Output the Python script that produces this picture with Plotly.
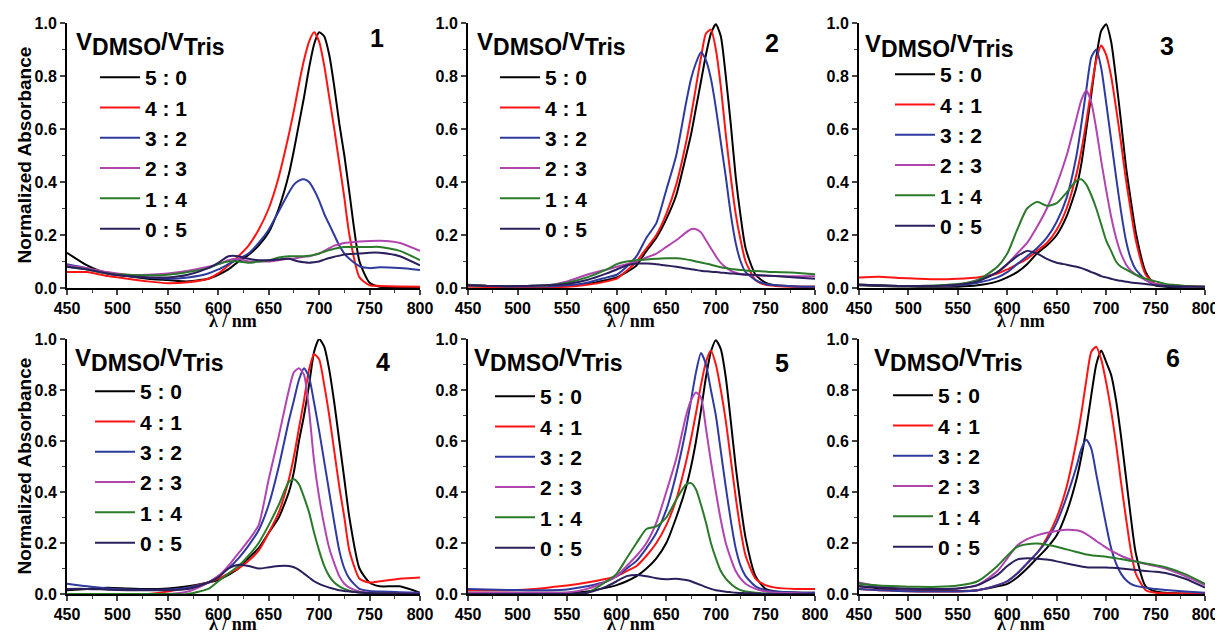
import plotly.graph_objects as go

# ---------------- data ----------------
WL = [450, 470, 490, 510, 530, 550, 570, 590, 600, 610, 620, 630, 640, 650, 660, 670, 675,
      680, 685, 690, 695, 700, 705, 710, 715, 720, 725, 730, 740, 750, 760, 780, 800]

RATIOS = ["5 : 0", "4 : 1", "3 : 2", "2 : 3", "1 : 4", "0 : 5"]
COLORS = ["#000000", "#ff1414", "#2f3a9e", "#b045b0", "#2a7a2a", "#2b1f5c"]
PANELS = ["1", "2", "3", "4", "5", "6"]

# panel 1
p1_50 = [0.133, 0.085, 0.055, 0.045, 0.035, 0.03, 0.025, 0.035, 0.05, 0.07, 0.1, 0.125, 0.16, 0.21, 0.3, 0.43, 0.52,
         0.62, 0.72, 0.83, 0.92, 0.965, 0.95, 0.88, 0.76, 0.62, 0.5, 0.36, 0.1, 0.02, 0.005, 0.003, 0.002]
p1_41 = [0.06, 0.06, 0.045, 0.035, 0.025, 0.018, 0.022, 0.035, 0.055, 0.085, 0.12, 0.16, 0.22, 0.3, 0.42, 0.58, 0.67,
         0.77, 0.86, 0.93, 0.965, 0.93, 0.84, 0.72, 0.6, 0.47, 0.34, 0.2, 0.04, 0.01, 0.008, 0.006, 0.005]
p1_32 = [0.09, 0.075, 0.055, 0.045, 0.04, 0.035, 0.04, 0.055, 0.07, 0.09, 0.11, 0.13, 0.17, 0.22, 0.29, 0.36, 0.39,
         0.405, 0.41, 0.4, 0.37, 0.33, 0.28, 0.24, 0.2, 0.16, 0.13, 0.11, 0.082, 0.075, 0.078, 0.075, 0.068]
p1_23 = [0.085, 0.075, 0.06, 0.05, 0.05, 0.055, 0.065, 0.08, 0.09, 0.105, 0.11, 0.1, 0.1, 0.1, 0.105, 0.11, 0.11,
         0.115, 0.118, 0.12, 0.125, 0.13, 0.14, 0.15, 0.16, 0.165, 0.17, 0.172, 0.175, 0.177, 0.178, 0.17, 0.14]
p1_14 = [0.08, 0.07, 0.055, 0.05, 0.048, 0.05, 0.06, 0.075, 0.09, 0.1, 0.1, 0.095, 0.1, 0.105, 0.115, 0.12, 0.12,
         0.12, 0.12, 0.122, 0.125, 0.13, 0.137, 0.143, 0.148, 0.152, 0.155, 0.155, 0.155, 0.155, 0.155, 0.14, 0.105]
p1_05 = [0.08, 0.07, 0.055, 0.045, 0.04, 0.04, 0.05, 0.075, 0.095, 0.12, 0.12, 0.11, 0.105, 0.105, 0.108, 0.11, 0.105,
         0.1, 0.097, 0.095, 0.097, 0.1, 0.107, 0.113, 0.118, 0.122, 0.126, 0.128, 0.13, 0.133, 0.133, 0.12, 0.085]

# panel 2
p2_50 = [0.012, 0.008, 0.006, 0.005, 0.005, 0.008, 0.015, 0.03, 0.04, 0.06, 0.085, 0.14, 0.19, 0.26, 0.35, 0.5, 0.58,
         0.68, 0.78, 0.88, 0.96, 0.995, 0.95, 0.8, 0.62, 0.42, 0.27, 0.15, 0.05, 0.02, 0.01, 0.006, 0.005]
p2_41 = [0.005, 0.004, 0.004, 0.004, 0.004, 0.005, 0.012, 0.025, 0.035, 0.065, 0.1, 0.15, 0.2, 0.28, 0.39, 0.55, 0.65,
         0.76, 0.87, 0.96, 0.975, 0.9, 0.76, 0.58, 0.42, 0.28, 0.18, 0.1, 0.03, 0.012, 0.008, 0.005, 0.005]
p2_32 = [0.01, 0.008, 0.006, 0.006, 0.006, 0.01, 0.02, 0.04, 0.05, 0.08, 0.12, 0.19, 0.245, 0.37, 0.5, 0.7, 0.79,
         0.85, 0.89, 0.86, 0.79, 0.68, 0.55, 0.42, 0.28, 0.17, 0.1, 0.06, 0.03, 0.015, 0.01, 0.006, 0.005]
p2_23 = [0.01, 0.008, 0.007, 0.008, 0.01, 0.025, 0.05, 0.07, 0.08, 0.09, 0.1, 0.115, 0.13, 0.155, 0.18, 0.21, 0.222,
         0.222, 0.21, 0.18, 0.15, 0.12, 0.095, 0.078, 0.065, 0.058, 0.053, 0.05, 0.048, 0.046, 0.045, 0.044, 0.044]
p2_14 = [0.01, 0.008, 0.007, 0.008, 0.01, 0.02, 0.04, 0.07, 0.09, 0.1, 0.105, 0.108, 0.11, 0.112, 0.112, 0.108, 0.105,
         0.1, 0.096, 0.092, 0.088, 0.083, 0.078, 0.075, 0.072, 0.07, 0.068, 0.066, 0.064, 0.062, 0.06, 0.058, 0.052]
p2_05 = [0.01, 0.008, 0.007, 0.008, 0.01, 0.015, 0.03, 0.055, 0.07, 0.085, 0.092, 0.092, 0.09, 0.085, 0.08, 0.074, 0.071,
         0.068, 0.065, 0.063, 0.061, 0.06, 0.058, 0.057, 0.055, 0.054, 0.052, 0.051, 0.049, 0.047, 0.045, 0.04, 0.035]

# panel 3
p3_50 = [0.01, 0.008, 0.006, 0.005, 0.005, 0.005, 0.01, 0.025, 0.04, 0.06, 0.09, 0.13, 0.16, 0.2, 0.27, 0.38, 0.47,
         0.6, 0.73, 0.87, 0.97, 0.995, 0.93, 0.79, 0.63, 0.46, 0.33, 0.21, 0.06, 0.01, 0.005, 0.003, 0.003]
p3_41 = [0.04, 0.042, 0.038, 0.035, 0.033, 0.035, 0.04, 0.055, 0.07, 0.09, 0.11, 0.14, 0.17, 0.22, 0.3, 0.43, 0.52,
         0.63, 0.75, 0.86, 0.915, 0.88, 0.8, 0.68, 0.55, 0.41, 0.29, 0.18, 0.05, 0.015, 0.01, 0.007, 0.005]
p3_32 = [0.012, 0.01, 0.008, 0.008, 0.008, 0.01, 0.02, 0.04, 0.06, 0.09, 0.12, 0.15, 0.19, 0.25, 0.34, 0.5, 0.62,
         0.75, 0.87, 0.9, 0.83, 0.7, 0.56, 0.42, 0.29, 0.18, 0.11, 0.07, 0.03, 0.012, 0.008, 0.005, 0.004]
p3_23 = [0.012, 0.01, 0.008, 0.008, 0.008, 0.012, 0.03, 0.06, 0.09, 0.13, 0.17, 0.23, 0.3, 0.39, 0.5, 0.64, 0.71,
         0.745, 0.7, 0.6, 0.48, 0.37, 0.27, 0.19, 0.13, 0.09, 0.065, 0.05, 0.03, 0.015, 0.01, 0.006, 0.004]
p3_14 = [0.012, 0.01, 0.008, 0.008, 0.01, 0.015, 0.03, 0.08, 0.13, 0.22, 0.3, 0.325, 0.31, 0.32, 0.36, 0.405, 0.41,
         0.39, 0.35, 0.3, 0.24, 0.18, 0.14, 0.1, 0.08, 0.07, 0.06, 0.05, 0.035, 0.025, 0.015, 0.008, 0.005]
p3_05 = [0.012, 0.01, 0.008, 0.008, 0.008, 0.012, 0.025, 0.06, 0.09, 0.12, 0.14, 0.13, 0.11, 0.095, 0.088, 0.08, 0.075,
         0.068, 0.06, 0.053, 0.045, 0.04, 0.035, 0.03, 0.027, 0.024, 0.021, 0.019, 0.015, 0.01, 0.008, 0.006, 0.005]

# panel 4
p4_50 = [0.015, 0.02, 0.025, 0.022, 0.02, 0.022, 0.03, 0.045, 0.055, 0.075, 0.1, 0.14, 0.18, 0.24, 0.3, 0.4, 0.48,
         0.6, 0.7, 0.82, 0.95, 1.0, 0.97, 0.88, 0.75, 0.6, 0.45, 0.3, 0.1, 0.045, 0.03, 0.03, 0.005]
p4_41 = [0.0, 0.0, 0.0, 0.0, 0.0, 0.01, 0.025, 0.045, 0.06, 0.08, 0.1, 0.13, 0.17, 0.24, 0.32, 0.45, 0.54,
         0.65, 0.76, 0.88, 0.94, 0.92, 0.82, 0.7, 0.56, 0.42, 0.3, 0.17, 0.06, 0.045, 0.05, 0.06, 0.065]
p4_32 = [0.04, 0.03, 0.022, 0.018, 0.017, 0.018, 0.025, 0.045, 0.07, 0.1, 0.14, 0.19, 0.25, 0.35, 0.5, 0.68, 0.76,
         0.84, 0.885, 0.85, 0.75, 0.64, 0.52, 0.4, 0.28, 0.17, 0.1, 0.06, 0.02, 0.012, 0.01, 0.007, 0.005]
p4_23 = [0.0, 0.0, 0.0, 0.0, 0.0, 0.0, 0.01, 0.045, 0.07, 0.11, 0.16, 0.21, 0.27, 0.45, 0.62, 0.8, 0.87,
         0.885, 0.86, 0.72, 0.52, 0.38, 0.27, 0.18, 0.12, 0.07, 0.04, 0.025, 0.01, 0.005, 0.003, 0.002, 0.0]
p4_14 = [0.0, 0.0, 0.0, 0.0, 0.0, 0.0, 0.0, 0.02, 0.05, 0.08, 0.11, 0.15, 0.2, 0.27, 0.35, 0.44, 0.45,
         0.43, 0.38, 0.32, 0.24, 0.17, 0.11, 0.07, 0.045, 0.03, 0.02, 0.013, 0.006, 0.003, 0.002, 0.0, 0.0]
p4_05 = [0.02, 0.02, 0.017, 0.015, 0.015, 0.015, 0.02, 0.045, 0.065, 0.1, 0.115, 0.11, 0.1, 0.105, 0.11, 0.11, 0.105,
         0.095, 0.08, 0.065, 0.05, 0.04, 0.032, 0.025, 0.02, 0.015, 0.012, 0.01, 0.006, 0.004, 0.003, 0.002, 0.0]

# panel 5
p5_50 = [0.005, 0.005, 0.005, 0.005, 0.005, 0.005, 0.01, 0.025, 0.035, 0.05, 0.07, 0.1, 0.14, 0.2, 0.3, 0.42, 0.5,
         0.6, 0.72, 0.85, 0.95, 0.995, 0.96, 0.85, 0.68, 0.5, 0.35, 0.22, 0.07, 0.02, 0.01, 0.006, 0.005]
p5_41 = [0.015, 0.015, 0.015, 0.018, 0.025, 0.033, 0.045, 0.06, 0.07, 0.09, 0.11, 0.15, 0.2, 0.27, 0.37, 0.52, 0.61,
         0.71, 0.82, 0.91, 0.955, 0.9, 0.8, 0.68, 0.53, 0.38, 0.25, 0.15, 0.06, 0.035, 0.025, 0.02, 0.02]
p5_32 = [0.02, 0.018, 0.016, 0.015, 0.015, 0.018, 0.03, 0.05, 0.07, 0.1, 0.13, 0.18, 0.24, 0.33, 0.47, 0.65, 0.76,
         0.87, 0.945, 0.9, 0.8, 0.7, 0.56, 0.42, 0.29, 0.18, 0.11, 0.07, 0.03, 0.015, 0.01, 0.006, 0.005]
p5_23 = [0.005, 0.005, 0.005, 0.005, 0.005, 0.005, 0.02, 0.05, 0.07, 0.11, 0.15, 0.2, 0.28, 0.4, 0.53, 0.7, 0.76,
         0.79, 0.77, 0.65, 0.52, 0.4, 0.29, 0.2, 0.14, 0.09, 0.06, 0.04, 0.02, 0.01, 0.005, 0.003, 0.0]
p5_14 = [0.0, 0.0, 0.0, 0.0, 0.0, 0.0, 0.005, 0.05, 0.08, 0.14, 0.2, 0.255, 0.265, 0.3, 0.37, 0.43, 0.435,
         0.41, 0.35, 0.28, 0.2, 0.14, 0.09, 0.06, 0.04, 0.025, 0.015, 0.01, 0.005, 0.002, 0.0, 0.0, 0.0]
p5_05 = [0.0, 0.0, 0.0, 0.0, 0.0, 0.0, 0.005, 0.03, 0.05, 0.07, 0.075, 0.07, 0.062, 0.058, 0.06, 0.055, 0.05,
         0.042, 0.035, 0.027, 0.02, 0.015, 0.012, 0.009, 0.007, 0.005, 0.004, 0.003, 0.002, 0.0, 0.0, 0.0, 0.0]

# panel 6
p6_50 = [0.03, 0.022, 0.017, 0.014, 0.012, 0.012, 0.015, 0.03, 0.04, 0.065, 0.1, 0.14, 0.18, 0.23, 0.32, 0.45, 0.54,
         0.65, 0.78, 0.9, 0.955, 0.91, 0.86, 0.76, 0.62, 0.46, 0.3, 0.16, 0.03, 0.01, 0.005, 0.002, 0.0]
p6_41 = [0.02, 0.015, 0.012, 0.01, 0.01, 0.01, 0.015, 0.035, 0.05, 0.08, 0.12, 0.16, 0.22, 0.3, 0.42, 0.6, 0.71,
         0.84, 0.95, 0.97, 0.92, 0.83, 0.72, 0.59, 0.44, 0.3, 0.17, 0.08, 0.015, 0.005, 0.003, 0.002, 0.0]
p6_32 = [0.02, 0.015, 0.012, 0.01, 0.01, 0.01, 0.015, 0.035, 0.05, 0.08, 0.12, 0.16, 0.21, 0.28, 0.38, 0.5, 0.57,
         0.605, 0.57, 0.47, 0.37, 0.27, 0.18, 0.12, 0.08, 0.055, 0.04, 0.032, 0.025, 0.02, 0.016, 0.01, 0.005]
p6_23 = [0.045, 0.03, 0.022, 0.02, 0.02, 0.022, 0.035, 0.09, 0.14, 0.19, 0.215, 0.23, 0.24, 0.247, 0.252, 0.25, 0.245,
         0.235, 0.222, 0.208, 0.195, 0.182, 0.17, 0.16, 0.15, 0.142, 0.135, 0.128, 0.118, 0.11, 0.1, 0.07, 0.035]
p6_14 = [0.04, 0.033, 0.03, 0.028, 0.028, 0.033, 0.05, 0.11, 0.15, 0.185, 0.195, 0.198, 0.193, 0.185, 0.175, 0.165, 0.16,
         0.155, 0.152, 0.15, 0.148, 0.146, 0.143, 0.14, 0.137, 0.133, 0.13, 0.127, 0.12, 0.113, 0.105, 0.078, 0.04]
p6_05 = [0.03, 0.025, 0.022, 0.02, 0.02, 0.022, 0.035, 0.075, 0.11, 0.135, 0.14, 0.138, 0.135, 0.128, 0.12, 0.112, 0.108,
         0.105, 0.104, 0.104, 0.104, 0.104, 0.103, 0.102, 0.1, 0.098, 0.096, 0.094, 0.09, 0.087, 0.082, 0.06, 0.025]

SERIES = [
    [p1_50, p1_41, p1_32, p1_23, p1_14, p1_05],
    [p2_50, p2_41, p2_32, p2_23, p2_14, p2_05],
    [p3_50, p3_41, p3_32, p3_23, p3_14, p3_05],
    [p4_50, p4_41, p4_32, p4_23, p4_14, p4_05],
    [p5_50, p5_41, p5_32, p5_23, p5_14, p5_05],
    [p6_50, p6_41, p6_32, p6_23, p6_14, p6_05],
]

X_TICKS = [450, 500, 550, 600, 650, 700, 750, 800]
Y_TICKS = [0.0, 0.2, 0.4, 0.6, 0.8, 1.0]
X_TITLE = "λ / nm"
Y_TITLE = "Normalized Absorbance"

# ---------------- layout helpers ----------------
# the page body has an 8px margin, so the figure is offset by 8px from the window edge
OFF = 8
W, H = 1223 - OFF, 633 - OFF
def px(x):
    return (x - OFF) / W
def py(y):
    return 1 - (y - OFF) / H

COLS = [(67, 420), (468, 815), (859, 1205)]
ROWS = [(23, 288), (339, 594)]

SANS = "Liberation Sans, Arial, sans-serif"
SERIF = "Liberation Serif, Times New Roman, serif"

fig = go.Figure()

# per-panel pixel anchors: legend line start x, first legend item y, title left x, title y, number x, number y
ANCH = [
    (100, 78, 74, 44, 377, 38),
    (500, 78, 475, 44, 772, 43),
    (895, 75, 863, 46, 1167, 46),
    (95, 392, 73, 360, 383, 362),
    (495, 397, 472, 360, 782, 363),
    (893, 396, 872, 360, 1173, 358),
]
XTITLE_Y = [321, 624]
YTITLE_X = 24

TITLE = ("V<sub><span style='font-size:23px'>DMSO</span></sub>"
         "/V<sub><span style='font-size:23px'>Tris</span></sub>")

layout = dict(
    width=W, height=H, margin=dict(l=0, r=0, t=0, b=0, autoexpand=False),
    paper_bgcolor="white", plot_bgcolor="white", showlegend=True,
    font=dict(family=SANS, color="black"),
)
annotations = []

for i in range(6):
    r, c = divmod(i, 3)
    sfx = "" if i == 0 else str(i + 1)
    leg = "legend" if i == 0 else f"legend{i + 1}"
    for j in range(6):
        fig.add_trace(go.Scatter(
            x=WL, y=SERIES[i][j], mode="lines", name=RATIOS[j],
            line=dict(color=COLORS[j], width=2, shape="spline", smoothing=0.6),
            xaxis="x" + sfx, yaxis="y" + sfx, legend=leg,
        ))
    xa = dict(
        domain=[px(COLS[c][0]), px(COLS[c][1])], anchor="y" + sfx, automargin=False,
        range=[450, 800], tickvals=X_TICKS, ticks="outside", ticklen=5, tickwidth=1.5,
        minor=dict(ticks="outside", ticklen=3, tickwidth=1.2, dtick=25, tick0=450),
        showline=True, linecolor="black", linewidth=2, showgrid=False, zeroline=False,
        tickfont=dict(family=SANS, size=16, color="black", weight="bold"),
    )
    ya = dict(
        domain=[py(ROWS[r][1]), py(ROWS[r][0])], anchor="x" + sfx, automargin=False,
        range=[0, 1.0], tickvals=Y_TICKS, tickformat=".1f", ticks="outside", ticklen=5, tickwidth=1.5,
        minor=dict(ticks="outside", ticklen=3, tickwidth=1.2, dtick=0.1, tick0=0),
        showline=True, linecolor="black", linewidth=2, showgrid=False, zeroline=False,
        tickfont=dict(family=SANS, size=16, color="black", weight="bold"),
    )
    layout["xaxis" + sfx] = xa
    layout["yaxis" + sfx] = ya

    lx, ly, tx, ty, nx, ny = ANCH[i]
    layout[leg] = dict(
        x=px(lx - 5), y=py(ly - 21), xanchor="left", yanchor="top",
        bgcolor="rgba(0,0,0,0)", borderwidth=0, itemwidth=40,
        font=dict(family=SANS, size=21, color="black", weight="bold"),
    )
    annotations.append(dict(
        text=TITLE, xref="paper", yref="paper",
        x=px(tx), y=py(ty), xanchor="left", yanchor="middle", showarrow=False,
        font=dict(family=SANS, size=24, color="black", weight="bold"),
    ))
    annotations.append(dict(
        text=PANELS[i], xref="paper", yref="paper",
        x=px(nx), y=py(ny), xanchor="center", yanchor="middle", showarrow=False,
        font=dict(family=SANS, size=25, color="black", weight="bold"),
    ))
    annotations.append(dict(
        text=X_TITLE, xref="paper", yref="paper",
        x=px((COLS[c][0] + COLS[c][1]) / 2 - 11), y=py(XTITLE_Y[r]),
        xanchor="center", yanchor="middle", showarrow=False,
        font=dict(family=SERIF, size=18, color="black", weight="bold"),
    ))
    if c == 0:
        annotations.append(dict(
            text=Y_TITLE, xref="paper", yref="paper", textangle=-90,
            x=px(YTITLE_X), y=py((ROWS[r][0] + ROWS[r][1]) / 2),
            xanchor="center", yanchor="middle", showarrow=False,
            font=dict(family=SANS, size=19, color="black", weight="bold"),
        ))

layout["annotations"] = annotations
fig.update_layout(**layout)
fig.write_html("out.html")
